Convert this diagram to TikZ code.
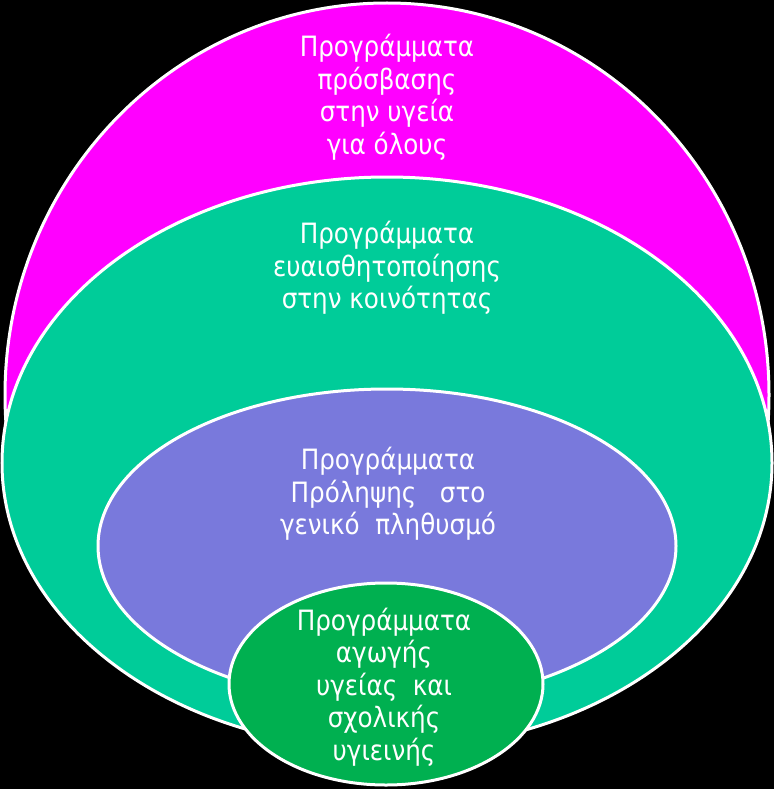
\documentclass[tikz,border=0pt]{standalone}
\usepackage{fontspec}
\setmainfont{DejaVu Sans}[FakeStretch=0.88]

\definecolor{accessCol}{RGB}{255,0,255}
\definecolor{awareCol}{RGB}{0,204,153}
\definecolor{preventCol}{RGB}{121,121,220}
\definecolor{schoolCol}{RGB}{0,176,80}

\tikzset{
    ring/.style={draw=white, line width=3pt},
    ringtext/.style={text=white, align=center, inner sep=0pt, font=\fontsize{28}{32.5}\selectfont}
}

\begin{document}
\begin{tikzpicture}[yscale=-1, x=1pt, y=1pt]
    % Define the centres of the rings
    \coordinate (accessPos) at (387, 395);
    \coordinate (awarePos) at (387, 463);
    \coordinate (preventPos) at (387, 546);
    \coordinate (schoolPos) at (386, 684);

    % Background
    \fill[black] (0,0) rectangle (774,789);
    \useasboundingbox (0,0) rectangle (774,789);

    % Draw the rings, outer one first
    \begin{scope}
        \clip (0,0) rectangle (774,445); % lower half is hidden anyway
        \draw[ring, fill=accessCol] (accessPos) ellipse [x radius=382, y radius=392];
    \end{scope}
    \draw[ring, fill=awareCol] (awarePos) ellipse [x radius=385, y radius=286];
    \draw[ring, fill=preventCol] (preventPos) ellipse [x radius=289, y radius=157];
    \draw[ring, fill=schoolCol] (schoolPos) ellipse [x radius=157, y radius=101];

    % Draw the labels
    \node[ringtext] (accessText) at (387, 97) {Προγράμματα\\πρόσβασης\\στην υγεία\\για όλους};
    \node[ringtext] (awareText) at (387, 268) {Προγράμματα\\ευαισθητοποίησης\\στην κοινότητας};
    \node[ringtext] (preventText) at (388, 494) {Προγράμματα\\Πρόληψης\ \ \ στο\\γενικό\ \ πληθυσμό};
    \node[ringtext] (schoolText) at (384, 687) {Προγράμματα\\αγωγής\\υγείας\ \ και\\σχολικής\\υγιεινής};
\end{tikzpicture}
\end{document}
